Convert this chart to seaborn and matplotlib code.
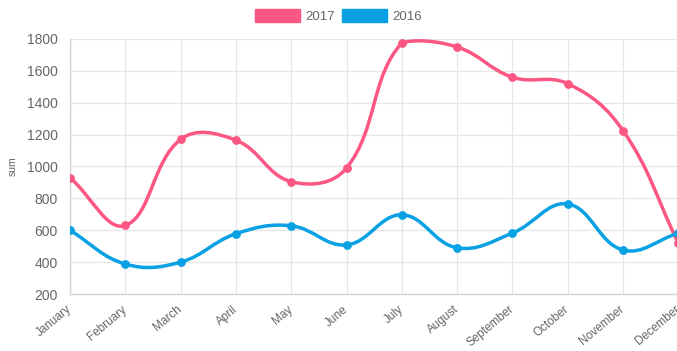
"""
Monthly sum, 2017 vs 2016 — smooth line chart (Chart.js look-alike).
"""
import numpy as np
import matplotlib
matplotlib.use("Agg")
import matplotlib.pyplot as plt
from matplotlib.path import Path
from matplotlib.patches import PathPatch, Patch
import seaborn as sns

MONTHS = ["January", "February", "March", "April", "May", "June",
          "July", "August", "September", "October", "November", "December"]
SUM_2017 = [930, 630, 1170, 1165, 905, 990, 1775, 1750, 1560, 1520, 1225, 520]
SUM_2016 = [600, 388, 400, 578, 628, 508, 697, 490, 582, 765, 476, 582]
SERIES = [("2017", SUM_2017, "#fb5782"), ("2016", SUM_2016, "#08a1e4")]
Y_TICKS = [200, 400, 600, 800, 1000, 1200, 1400, 1600, 1800]

GRID = "#e6e6e6"
TEXT = "#666666"


def spline_path(xs, ys, tension=0.4, sx=55.3, sy=31.9 / 200, ylim=(200, 1800)):
    """Cubic bezier through the points, control points as Chart.js computes them."""
    px = np.asarray(xs, float) * sx
    py = np.asarray(ys, float) * sy
    n = len(px)
    c_in, c_out = [], []
    for i in range(n):
        a = i - 1 if i > 0 else i
        b = i + 1 if i < n - 1 else i
        d01 = np.hypot(px[i] - px[a], py[i] - py[a])
        d12 = np.hypot(px[b] - px[i], py[b] - py[i])
        tot = d01 + d12
        fa = tension * (d01 / tot if tot else 0)
        fb = tension * (d12 / tot if tot else 0)
        dx, dy = px[b] - px[a], py[b] - py[a]
        c_in.append((px[i] - fa * dx, py[i] - fa * dy))
        c_out.append((px[i] + fb * dx, py[i] + fb * dy))

    def back(p):
        return (p[0] / sx, float(np.clip(p[1] / sy, *ylim)))

    verts = [(xs[0], ys[0])]
    codes = [Path.MOVETO]
    for i in range(n - 1):
        verts += [back(c_out[i]), back(c_in[i + 1]), (xs[i + 1], ys[i + 1])]
        codes += [Path.CURVE4] * 3
    return Path(verts, codes)


def main() -> None:
    sns.set_theme(style="white")
    plt.rcParams["font.family"] = ["Liberation Sans", "DejaVu Sans"]

    fig = plt.figure(figsize=(6.77, 3.51), dpi=100)
    ax = fig.add_axes([70 / 677, 57 / 351, (678.3 - 70) / 677, 255 / 351])

    x = np.arange(len(MONTHS))
    for label, values, color in SERIES:
        ax.add_patch(PathPatch(spline_path(x, values), fill=False,
                               edgecolor=color, lw=2.5, zorder=3,
                               capstyle="round", joinstyle="round"))
        sns.scatterplot(x=x, y=values, ax=ax, color=color, s=40,
                        edgecolor=color, linewidth=0, zorder=4)

    ax.set_xlim(0, len(MONTHS) - 1)
    ax.set_ylim(200, 1800)
    ax.set_xticks(x)
    ax.set_xticklabels(MONTHS, rotation=40, ha="right", va="center",
                       rotation_mode="anchor")
    ax.set_yticks(Y_TICKS)
    ax.set_yticklabels([str(v) for v in Y_TICKS])
    ax.grid(True, color=GRID, lw=0.9)
    ax.set_axisbelow(True)
    ax.tick_params(axis="both", length=7, width=0.9, color=GRID,
                   labelcolor=TEXT)
    ax.tick_params(axis="y", labelsize=10, pad=2)
    ax.tick_params(axis="x", labelsize=8.5, pad=3)
    for side in ("top", "right"):
        ax.spines[side].set_visible(False)
    for side in ("left", "bottom"):
        ax.spines[side].set_color("#d6d6d6")
        ax.spines[side].set_linewidth(1.0)
    ax.set_ylabel("sum", fontsize=7.5, color=TEXT, labelpad=6)
    ax.set_xlabel("")

    handles = [Patch(facecolor=c, edgecolor=c, label=l) for l, _, c in SERIES]
    fig.legend(handles=handles, loc="upper center", bbox_to_anchor=(0.5, 1.0),
               ncol=2, frameon=False, fontsize=9.5, handlelength=3.4,
               handleheight=1.1, handletextpad=0.4, columnspacing=0.6,
               labelcolor=TEXT, borderaxespad=0.3)

    fig.savefig("out.png", dpi=100)
    plt.close(fig)


if __name__ == "__main__":
    main()
